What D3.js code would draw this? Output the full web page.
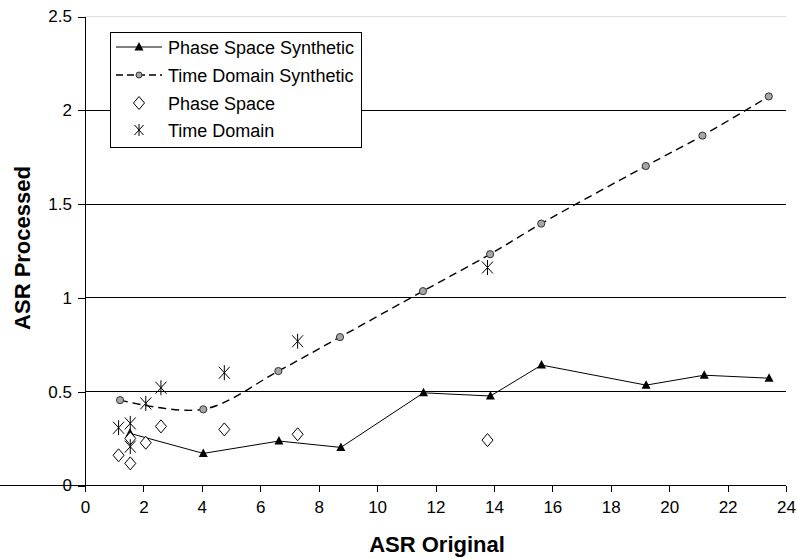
<!DOCTYPE html>
<html><head><meta charset="utf-8">
<script src="https://cdn.jsdelivr.net/npm/d3@7"></script>
<style>body{margin:0;background:#fff}svg{display:block;font-family:"Liberation Sans",Arial,sans-serif}</style>
</head><body><svg id="c" width="797" height="559"></svg>
<script>
// Data
const pssX = [1.54, 4.05, 6.64, 8.76, 11.59, 13.88, 15.63, 19.21, 21.20, 23.42];
const pssY = [0.278, 0.171, 0.237, 0.203, 0.494, 0.477, 0.642, 0.535, 0.588, 0.572];
const tdsX = [1.20, 4.05, 6.62, 8.73, 11.57, 13.87, 15.62, 19.20, 21.14, 23.41];
const tdsY = [0.455, 0.406, 0.610, 0.791, 1.036, 1.233, 1.396, 1.703, 1.865, 2.074];
const psX = [1.15, 1.55, 1.55, 2.08, 2.60, 4.77, 7.28, 13.78];
const psY = [0.161, 0.118, 0.251, 0.228, 0.315, 0.299, 0.273, 0.242];
const tdX = [1.15, 1.55, 1.55, 2.08, 2.60, 4.77, 7.28, 13.78];
const tdY = [0.308, 0.331, 0.207, 0.438, 0.521, 0.601, 0.769, 1.162];
const xTicks = [0,2,4,6,8,10,12,14,16,18,20,22,24];
const yTicks = [0,0.5,1,1.5,2,2.5];
const legendLabels = ["Phase Space Synthetic","Time Domain Synthetic","Phase Space","Time Domain"];
const xTitle = "ASR Original", yTitle = "ASR Processed";

const svg = d3.select("#c");
const x = d3.scaleLinear().domain([0,24]).range([85,786]);
const y = d3.scaleLinear().domain([0,2.5]).range([485.5,16.5]);

// gridlines
svg.append("g").selectAll("line").data(yTicks.filter(d=>d>0)).join("line")
  .attr("x1",x(0)).attr("x2",x(24)).attr("y1",d=>y(d)).attr("y2",d=>y(d))
  .attr("stroke",d=>d===2.5?"#e0e0e0":"#000").attr("stroke-width",1).attr("shape-rendering","crispEdges");

// axes
const xa = svg.append("g").attr("transform",`translate(0,${y(0)})`)
  .call(d3.axisBottom(x).tickValues(xTicks).tickSize(6).tickPadding(9).tickFormat(d3.format("d")));
const ya = svg.append("g").attr("transform",`translate(${x(0)},0)`)
  .call(d3.axisLeft(y).tickValues(yTicks).tickSize(7).tickPadding(6).tickFormat(d=>String(d)));
[xa,ya].forEach(a=>{
  a.select(".domain").attr("stroke","#000").attr("shape-rendering","crispEdges");
  a.selectAll(".tick line").attr("stroke","#000").attr("shape-rendering","crispEdges");
  a.selectAll("text").attr("font-size",17).attr("fill","#000").attr("font-family","Liberation Sans, Arial, sans-serif");
});
ya.select(".domain").attr("d",`M0,${y(2.5)}V${y(0)}`);
xa.select(".domain").attr("d",`M0,0H${x(24)}`);

// titles
svg.append("text").attr("x",437).attr("y",552).attr("text-anchor","middle")
  .attr("font-size",22).attr("font-weight","bold").text(xTitle);
svg.append("text").attr("transform","translate(29.5,248) rotate(-90)").attr("text-anchor","middle")
  .attr("font-size",22).attr("font-weight","bold").text(yTitle);

// symbol paths
const triPath = "M0,-5L4.5,3.5L-4.5,3.5Z";
const diaPath = "M0,-6.5L5.5,0L0,6.5L-5.5,0Z";
const astPath = "M-5.5,-6L5.5,6M-5.5,6L5.5,-6M0,-7.5L0,7.5";
const astSmall = "M-4.5,-5L4.5,5M-4.5,5L4.5,-5M0,-6L0,6";

const pss = pssX.map((v,i)=>[v,pssY[i]]);
const tds = tdsX.map((v,i)=>[v,tdsY[i]]);
const ps = psX.map((v,i)=>[v,psY[i]]);
const td = tdX.map((v,i)=>[v,tdY[i]]);

// synthetic lines and markers
svg.append("path").datum(tds).attr("fill","none").attr("stroke","#000").attr("stroke-width",1.4)
  .attr("stroke-dasharray","8,5")
  .attr("d",d3.line().x(d=>x(d[0])).y(d=>y(d[1])).curve(d3.curveCatmullRom.alpha(0.5)));
svg.append("path").datum(pss).attr("fill","none").attr("stroke","#000").attr("stroke-width",1)
  .attr("d",d3.line().x(d=>x(d[0])).y(d=>y(d[1])));
svg.append("g").selectAll("circle").data(tds).join("circle")
  .attr("cx",d=>x(d[0])).attr("cy",d=>y(d[1])).attr("r",3.6)
  .attr("fill","#a6a6a6").attr("stroke","#333").attr("stroke-width",1);
svg.append("g").selectAll("path").data(pss).join("path")
  .attr("transform",d=>`translate(${x(d[0])},${y(d[1])})`).attr("d",triPath).attr("fill","#000");

// scatter markers on top
svg.append("g").selectAll("path").data(ps).join("path")
  .attr("transform",d=>`translate(${x(d[0])},${y(d[1])})`).attr("d",diaPath)
  .attr("fill","#fff").attr("stroke","#000").attr("stroke-width",1);
svg.append("g").selectAll("path").data(td).join("path")
  .attr("transform",d=>`translate(${x(d[0])},${y(d[1])})`).attr("d",astPath)
  .attr("fill","none").attr("stroke","#000").attr("stroke-width",1);

// legend
const lg = svg.append("g");
lg.append("rect").attr("x",110.5).attr("y",32.5).attr("width",251).attr("height",115)
  .attr("fill","#fff").attr("stroke","#000").attr("stroke-width",1);
const ly = [47,75,103,130];
lg.append("line").attr("x1",116).attr("x2",162).attr("y1",ly[0]).attr("y2",ly[0]).attr("stroke","#000");
lg.append("path").attr("transform",`translate(139,${ly[0]})`).attr("d",triPath).attr("fill","#000");
lg.append("line").attr("x1",116).attr("x2",162).attr("y1",ly[1]).attr("y2",ly[1]).attr("stroke","#000")
  .attr("stroke-width",1.4).attr("stroke-dasharray","7,4");
lg.append("circle").attr("cx",139).attr("cy",ly[1]).attr("r",3).attr("fill","#a6a6a6").attr("stroke","#333");
lg.append("path").attr("transform",`translate(139,${ly[2]})`).attr("d",diaPath).attr("fill","#fff").attr("stroke","#000");
lg.append("path").attr("transform",`translate(139,${ly[3]})`).attr("d",astSmall).attr("fill","none").attr("stroke","#000");
lg.selectAll("text").data(legendLabels).join("text")
  .attr("x",168).attr("y",(d,i)=>ly[i]+6.5).attr("font-size",18).text(d=>d);
</script></body></html>
